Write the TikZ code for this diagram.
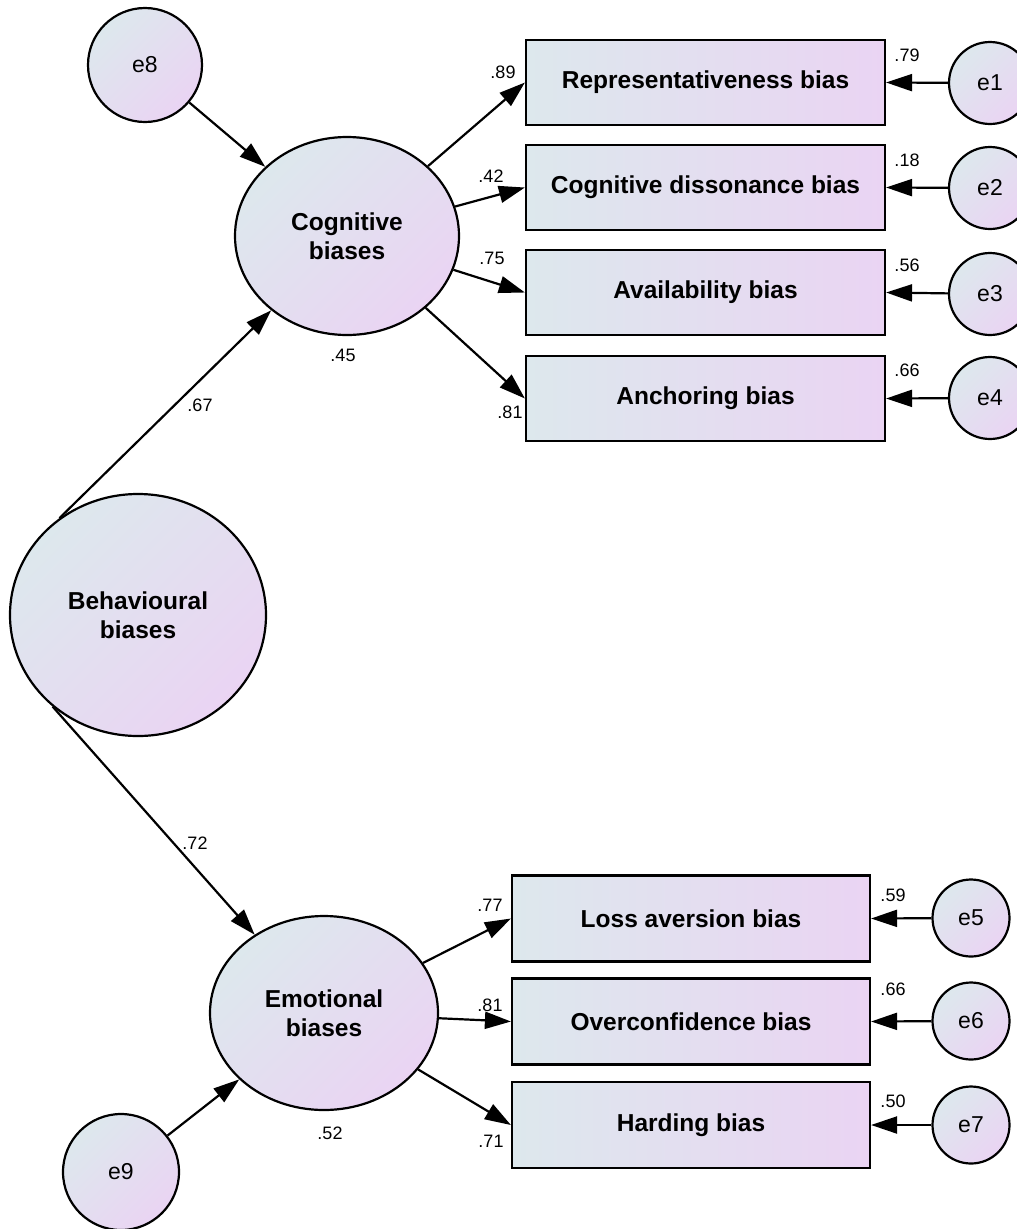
\documentclass[tikz,border=0pt]{standalone}
\usepackage{fontspec}
\setmainfont{Liberation Sans}
\usetikzlibrary{arrows.meta,shapes.geometric}

\definecolor{fillA}{RGB}{221,232,237}
\definecolor{fillB}{RGB}{234,212,243}

\begin{document}
\begin{tikzpicture}[x=1pt,y=-1pt,line width=2.2pt,
  obsbox/.style={draw=black, rectangle, minimum width=359pt, minimum height=85pt,
    inner sep=0pt, left color=fillA, right color=fillB,
    font=\fontsize{24.5}{29}\selectfont\bfseries},
  latent/.style={draw=black, ellipse, inner sep=0pt, align=center,
    top color=fillA, bottom color=fillB, shading angle=45,
    font=\fontsize{24.5}{28.5}\selectfont\bfseries},
  errc/.style={draw=black, circle, inner sep=0pt,
    top color=fillA, bottom color=fillB, shading angle=45,
    font=\fontsize{23}{23}\selectfont},
  arr/.style={-{Triangle[length=26pt,width=17pt]}},
  coef/.style={inner sep=0pt, font=\fontsize{18}{18}\selectfont}
]
\useasboundingbox (0,0) rectangle (1017,1229);

% latent variables
\node[latent, minimum width=256pt, minimum height=242pt] (beh) at (138,615) {Behavioural\\biases};
\node[latent, minimum width=224pt, minimum height=198pt] (cog) at (347,236) {Cognitive\\biases};
\node[latent, minimum width=228pt, minimum height=194pt] (emo) at (324,1013) {Emotional\\biases};

% disturbances of the latent variables
\node[errc, minimum size=114pt] (e8) at (145,65) {e8};
\node[errc, minimum size=116pt] (e9) at (121,1172) {e9};

% cognitive indicators
\node[obsbox] (rep) at (705.5,82.5) {Representativeness bias};
\node[obsbox] (dis) at (705.5,187.5) {Cognitive dissonance bias};
\node[obsbox] (ava) at (705.5,292.5) {Availability bias};
\node[obsbox] (anc) at (705.5,398.5) {Anchoring bias};

% emotional indicators
\node[obsbox, minimum width=358pt, minimum height=86pt] (los) at (691,918.5) {Loss aversion bias};
\node[obsbox, minimum width=358pt, minimum height=86pt] (ovc) at (691,1021.5) {Overconfidence bias};
\node[obsbox, minimum width=358pt, minimum height=86pt] (har) at (691,1125) {Harding bias};

% measurement errors
\node[errc, minimum size=82pt] (e1) at (990,83) {e1};
\node[errc, minimum size=82pt] (e2) at (990,188) {e2};
\node[errc, minimum size=82pt] (e3) at (990,294) {e3};
\node[errc, minimum size=82pt] (e4) at (990,398) {e4};
\node[errc, minimum size=77pt] (e5) at (971,918) {e5};
\node[errc, minimum size=77pt] (e6) at (971,1021) {e6};
\node[errc, minimum size=77pt] (e7) at (971,1125) {e7};

% structural paths
\draw[arr] (beh.129.5) -- (cog);
\draw[arr] (beh.227.6) -- (emo);
\draw[arr] (e8) -- (cog);
\draw[arr] (e9) -- (emo);

% loadings
\draw[arr] (cog) -- (rep.west);
\draw[arr] (cog) -- (dis.west);
\draw[arr] (cog) -- (ava.west);
\draw[arr] (cog) -- (anc.west);
\draw[arr] (emo) -- (los.west);
\draw[arr] (emo) -- (ovc.west);
\draw[arr] (emo) -- (har.west);

% error paths
\draw[arr] (e1) -- (rep.east);
\draw[arr] (e2) -- (dis.east);
\draw[arr] (e3) -- (ava.east);
\draw[arr] (e4) -- (anc.east);
\draw[arr] (e5) -- (los.east);
\draw[arr] (e6) -- (ovc.east);
\draw[arr] (e7) -- (har.east);

% estimates
\node[coef] (c67) at (200,405) {.67};
\node[coef] (c72) at (195,843) {.72};
\node[coef] (c45) at (343,355) {.45};
\node[coef] (c52) at (330,1133) {.52};
\node[coef] (c89) at (503,72) {.89};
\node[coef] (c42) at (491,176) {.42};
\node[coef] (c75) at (492,258) {.75};
\node[coef] (c81a) at (510,412) {.81};
\node[coef] (c79) at (907,55) {.79};
\node[coef] (c18) at (907,160) {.18};
\node[coef] (c56) at (907,265) {.56};
\node[coef] (c66a) at (907,370) {.66};
\node[coef] (c77) at (490,905) {.77};
\node[coef] (c81b) at (490,1005) {.81};
\node[coef] (c71) at (491,1141) {.71};
\node[coef] (c59) at (893,895) {.59};
\node[coef] (c66b) at (893,989) {.66};
\node[coef] (c50) at (893,1101) {.50};
\end{tikzpicture}
\end{document}
